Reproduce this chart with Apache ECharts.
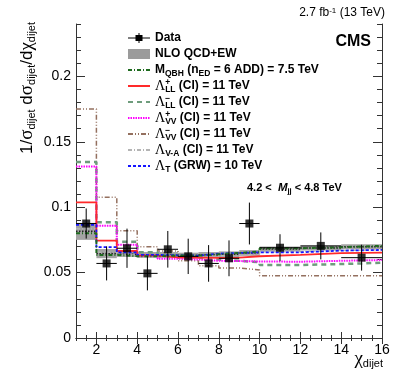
<!DOCTYPE html>
<html>
<head>
<meta charset="utf-8">
<script src="https://cdn.jsdelivr.net/npm/echarts@6/dist/echarts.min.js"></script>
<style>
  html, body { margin: 0; padding: 0; background: #fff; }
  #chart { width: 407px; height: 383px; }
</style>
</head>
<body>
<div id="chart"></div>
<script>
// bin edges in chi_dijet
const edges = [1, 2, 3, 4, 5, 6, 7, 8, 9, 10, 12, 14, 16]
const xTicks = [2, 4, 6, 8, 10, 12, 14, 16]
const yTicks = [0, 0.05, 0.1, 0.15, 0.2]

// data points
const dataY = [0.0875, 0.057, 0.0686, 0.0494, 0.0678, 0.0624, 0.057, 0.0609, 0.0875, 0.069, 0.0704, 0.0614]
const dataErr = [0.0115, 0.013, 0.015, 0.013, 0.014, 0.0135, 0.014, 0.0137, 0.016, 0.0103, 0.0103, 0.0099]

// NLO QCD+EW with uncertainty band
const nlo = [0.0815, 0.0645, 0.064, 0.0635, 0.0635, 0.063, 0.0635, 0.064, 0.065, 0.068, 0.0687, 0.0697]
const nloErr = [0.0065, 0.0035, 0.002, 0.0022, 0.0022, 0.0022, 0.0022, 0.0022, 0.0022, 0.0019, 0.0019, 0.0019]

// signal models
const qbh = [0.080, 0.0635, 0.0625, 0.0625, 0.063, 0.063, 0.064, 0.065, 0.066, 0.0686, 0.0694, 0.0704]
const llPlus = [0.1037, 0.0745, 0.0665, 0.063, 0.0617, 0.0615, 0.0612, 0.0615, 0.0625, 0.0635, 0.0648, 0.0652]
const llMinus = [0.1345, 0.0885, 0.0735, 0.0655, 0.063, 0.0615, 0.060, 0.059, 0.058, 0.0558, 0.0565, 0.0575]
const vvPlus = [0.131, 0.0858, 0.0712, 0.063, 0.0606, 0.060, 0.059, 0.0588, 0.0585, 0.0583, 0.059, 0.0596]
const vvMinus = [0.175, 0.1075, 0.082, 0.0698, 0.0665, 0.059, 0.0553, 0.0535, 0.052, 0.0475, 0.0475, 0.0475]
const vMinusA = [0.0835, 0.0655, 0.0635, 0.063, 0.063, 0.0625, 0.0628, 0.063, 0.064, 0.066, 0.0668, 0.0675]
const grw = [0.0865, 0.0694, 0.0655, 0.0635, 0.0632, 0.063, 0.0645, 0.065, 0.0655, 0.0655, 0.0668, 0.0673]

const FONT = 'Liberation Sans'
const SERIF = 'Liberation Serif'

// histogram as step points on the bin edges
const stepPoints = vals => edges.map((e, i) => [e, vals[Math.min(i, vals.length - 1)]])
const binLo = i => edges[i]
const binHi = i => edges[i + 1]

const legendText = {
  'Data': '{b|Data}',
  'NLO QCD+EW': '{b|NLO QCD+EW}',
  'QBH': '{b|M}{sub|QBH}{b| (n}{sub|ED}{b| = 6 ADD) = 7.5 TeV}',
  'LLp': '{g|Λ}{sup|+}{sub|LL}{b| (CI) = 11 TeV}',
  'LLm': '{g|Λ}{sup|−}{sub|LL}{b| (CI) = 11 TeV}',
  'VVp': '{g|Λ}{sup|+}{sub|VV}{b| (CI) = 11 TeV}',
  'VVm': '{g|Λ}{sup|−}{sub|VV}{b| (CI) = 11 TeV}',
  'VmA': '{g|Λ}{sub|V-A}{b| (CI) = 11 TeV}',
  'GRW': '{g|Λ}{sub|T}{b| (GRW) = 10 TeV}'
}
const lineNames = ['QBH', 'LLp', 'LLm', 'VVp', 'VVm', 'VmA', 'GRW']

function stepSeries (name, vals, color, width, type) {
  return {
    name,
    type: 'line',
    step: 'end',
    data: stepPoints(vals),
    symbol: 'none',
    showSymbol: false,
    lineStyle: { color, width, type },
    itemStyle: { color },
    z: 3
  }
}

const chart = echarts.init(document.getElementById('chart'), null, { renderer: 'canvas' })

const axisLineStyle = { color: '#333', width: 1 }

const option = {
  animation: false,
  textStyle: { fontFamily: FONT },
  grid: { left: 76, right: 25, top: 24, bottom: 45 },
  title: {
    left: 247,
    top: 181,
    padding: 0,
    text: '{b|4.2 <  }{i|M}{s|jj}{b| < 4.8 TeV}',
    textStyle: {
      lineHeight: 14,
      rich: {
        b: { fontFamily: FONT, fontWeight: 'bold', fontSize: 11, lineHeight: 14, color: '#000' },
        i: { fontFamily: FONT, fontWeight: 'bold', fontStyle: 'italic', fontSize: 11.5, lineHeight: 14, color: '#000' },
        s: { fontFamily: FONT, fontWeight: 'bold', fontSize: 7.5, lineHeight: 7, verticalAlign: 'bottom', color: '#000' }
      }
    }
  },
  xAxis: [
    { type: 'value', position: 'bottom', min: 1, max: 16, interval: 0.5,
      axisLine: { lineStyle: axisLineStyle }, axisTick: { inside: true, length: 3, lineStyle: axisLineStyle },
      axisLabel: { show: false }, splitLine: { show: false } },
    { type: 'value', position: 'bottom', min: 1, max: 16,
      axisLine: { show: false },
      axisTick: { inside: true, length: 6, customValues: xTicks, lineStyle: axisLineStyle },
      axisLabel: { customValues: xTicks, fontSize: 14, color: '#000', margin: 5, fontFamily: FONT },
      splitLine: { show: false } },
    { type: 'value', position: 'top', min: 1, max: 16, interval: 0.5,
      axisLine: { lineStyle: axisLineStyle }, axisTick: { inside: true, length: 3, lineStyle: axisLineStyle },
      axisLabel: { show: false }, splitLine: { show: false } },
    { type: 'value', position: 'top', min: 1, max: 16,
      axisLine: { show: false },
      axisTick: { inside: true, length: 6, customValues: xTicks, lineStyle: axisLineStyle },
      axisLabel: { show: false }, splitLine: { show: false } }
  ],
  yAxis: [
    { type: 'value', position: 'left', min: 0, max: 0.24, interval: 0.01,
      axisLine: { show: true, lineStyle: axisLineStyle }, axisTick: { show: true, inside: true, length: 5, lineStyle: axisLineStyle },
      axisLabel: {
        fontSize: 14, color: '#000', margin: 5, fontFamily: FONT, showMinLabel: true,
        formatter: v => {
          const k = Math.round(v * 100)
          return (k % 5 === 0 && yTicks.includes(k / 100)) ? String(k / 100) : ''
        }
      },
      splitLine: { show: false } },
    { type: 'value', position: 'left', min: 0, max: 0.24,
      axisLine: { show: false },
      axisTick: { show: true, inside: true, length: 9, customValues: yTicks, lineStyle: axisLineStyle },
      axisLabel: { show: false },
      splitLine: { show: false } },
    { type: 'value', position: 'right', min: 0, max: 0.24, interval: 0.01,
      axisLine: { show: true, lineStyle: axisLineStyle }, axisTick: { show: true, inside: true, length: 5, lineStyle: axisLineStyle },
      axisLabel: { show: false }, splitLine: { show: false } },
    { type: 'value', position: 'right', min: 0, max: 0.24,
      axisLine: { show: false },
      axisTick: { show: true, inside: true, length: 9, customValues: yTicks, lineStyle: axisLineStyle },
      axisLabel: { show: false }, splitLine: { show: false } }
  ],
  legend: {
    orient: 'vertical',
    left: 127,
    top: 30,
    itemWidth: 22,
    itemHeight: 10,
    itemGap: 0,
    padding: 0,
    selectedMode: false,
    data: [
      { name: 'Data', icon: 'path://M0,4.5L22,4.5L22,5.5L0,5.5Z M10.5,0L11.5,0L11.5,10L10.5,10Z M7.5,2L14.5,2L14.5,8L7.5,8Z' },
      { name: 'NLO QCD+EW', icon: 'rect' }
    ].concat(lineNames.map(n => ({ name: n, itemStyle: { opacity: 0 } }))),
    formatter: name => legendText[name],
    textStyle: {
      lineHeight: 16,
      rich: {
        b: { fontFamily: FONT, fontWeight: 'bold', fontSize: 12, lineHeight: 16, color: '#000' },
        g: { fontFamily: SERIF, fontSize: 14, lineHeight: 16, color: '#000' },
        sub: { fontFamily: FONT, fontWeight: 'bold', fontSize: 8.5, lineHeight: 9, verticalAlign: 'bottom', color: '#000' },
        sup: { fontFamily: FONT, fontWeight: 'bold', fontSize: 8.5, lineHeight: 9, width: 0, verticalAlign: 'top', color: '#000' }
      }
    }
  },
  graphic: [
    { type: 'text', x: 27, y: 22, rotation: Math.PI / 2,
      style: { text: '{m|1/}{g|σ}{s|dijet}{m| d}{g|σ}{s|dijet}{m|/d}{g|χ}{s|dijet}', align: 'right', verticalAlign: 'middle',
        rich: {
          m: { fontFamily: FONT, fontSize: 17, lineHeight: 20, fill: '#000' },
          g: { fontFamily: SERIF, fontSize: 19, lineHeight: 20, fill: '#000' },
          s: { fontFamily: FONT, fontSize: 11, lineHeight: 11, verticalAlign: 'bottom', fill: '#000' }
        } } },
    { type: 'text', x: 383, y: 359,
      style: { text: '{g|χ}{s|dijet}', align: 'right', verticalAlign: 'middle',
        rich: {
          g: { fontFamily: SERIF, fontSize: 19, lineHeight: 20, fill: '#000' },
          s: { fontFamily: FONT, fontSize: 11, lineHeight: 11, verticalAlign: 'bottom', fill: '#000' }
        } } },
    { type: 'text', x: 385, y: 13,
      style: { text: '2.7 fb{sup|-1} (13 TeV)', align: 'right', verticalAlign: 'middle',
        font: '12px "Liberation Sans"', fill: '#000',
        rich: { sup: { fontFamily: FONT, fontSize: 8, lineHeight: 8, verticalAlign: 'top', fill: '#000' } } } },
    { type: 'text', x: 371, y: 42,
      style: { text: 'CMS', align: 'right', verticalAlign: 'middle', font: 'bold 16px "Liberation Sans"', fill: '#000' } }
  ],
  series: [
    {
      name: 'NLO QCD+EW',
      type: 'custom',
      itemStyle: { color: '#9b9b9b' },
      data: nlo.map((v, i) => [binLo(i), binHi(i), v, nloErr[i]]),
      renderItem (params, api) {
        const lo = api.value(0); const hi = api.value(1)
        const c = api.value(2); const e = api.value(3)
        const p1 = api.coord([lo, c + e])
        const p2 = api.coord([hi, c - e])
        const m1 = api.coord([lo, c])
        const m2 = api.coord([hi, c])
        return {
          type: 'group',
          children: [
            { type: 'rect', shape: { x: p1[0], y: p1[1], width: p2[0] - p1[0], height: p2[1] - p1[1] },
              style: { fill: '#a3a3a3' } },
            { type: 'line', shape: { x1: m1[0], y1: m1[1], x2: m2[0], y2: m2[1] },
              style: { stroke: '#222', lineWidth: 1.5, lineDash: [1.5, 1.5] } }
          ]
        }
      },
      z: 2
    },
    stepSeries('VmA', vMinusA, '#b4b4b4', 1.5, [4, 2, 1, 2]),
    stepSeries('VVm', vvMinus, '#94705f', 1.5, [5, 2, 1, 2, 1, 2]),
    stepSeries('LLm', llMinus, '#6e9c7c', 2.5, [5, 4]),
    stepSeries('VVp', vvPlus, '#ff00ff', 2, [1.5, 1]),
    stepSeries('LLp', llPlus, '#ff2a2a', 1.8, 'solid'),
    stepSeries('GRW', grw, '#1515ff', 1.8, [3, 2]),
    stepSeries('QBH', qbh, '#1f6b1f', 2, [4, 2, 1, 2]),
    {
      name: 'Data',
      type: 'custom',
      itemStyle: { color: '#000' },
      data: dataY.map((v, i) => [(binLo(i) + binHi(i)) / 2, v, dataErr[i], (binHi(i) - binLo(i)) / 2]),
      renderItem (params, api) {
        const x = api.value(0); const y = api.value(1)
        const e = api.value(2); const hw = api.value(3)
        const top = api.coord([x, y + e]); const bot = api.coord([x, y - e])
        const left = api.coord([x - hw, y]); const right = api.coord([x + hw, y])
        return {
          type: 'group',
          children: [
            { type: 'line', shape: { x1: top[0], y1: top[1], x2: bot[0], y2: bot[1] }, style: { stroke: '#000', lineWidth: 1 } },
            { type: 'line', shape: { x1: left[0], y1: left[1], x2: right[0], y2: right[1] }, style: { stroke: '#000', lineWidth: 1 } }
          ]
        }
      },
      z: 5
    },
    {
      name: 'Data',
      type: 'scatter',
      symbol: 'rect',
      symbolSize: 8,
      itemStyle: { color: '#000' },
      data: dataY.map((v, i) => [(binLo(i) + binHi(i)) / 2, v]),
      z: 6
    }
  ]
}

chart.setOption(option)
</script>
</body>
</html>
